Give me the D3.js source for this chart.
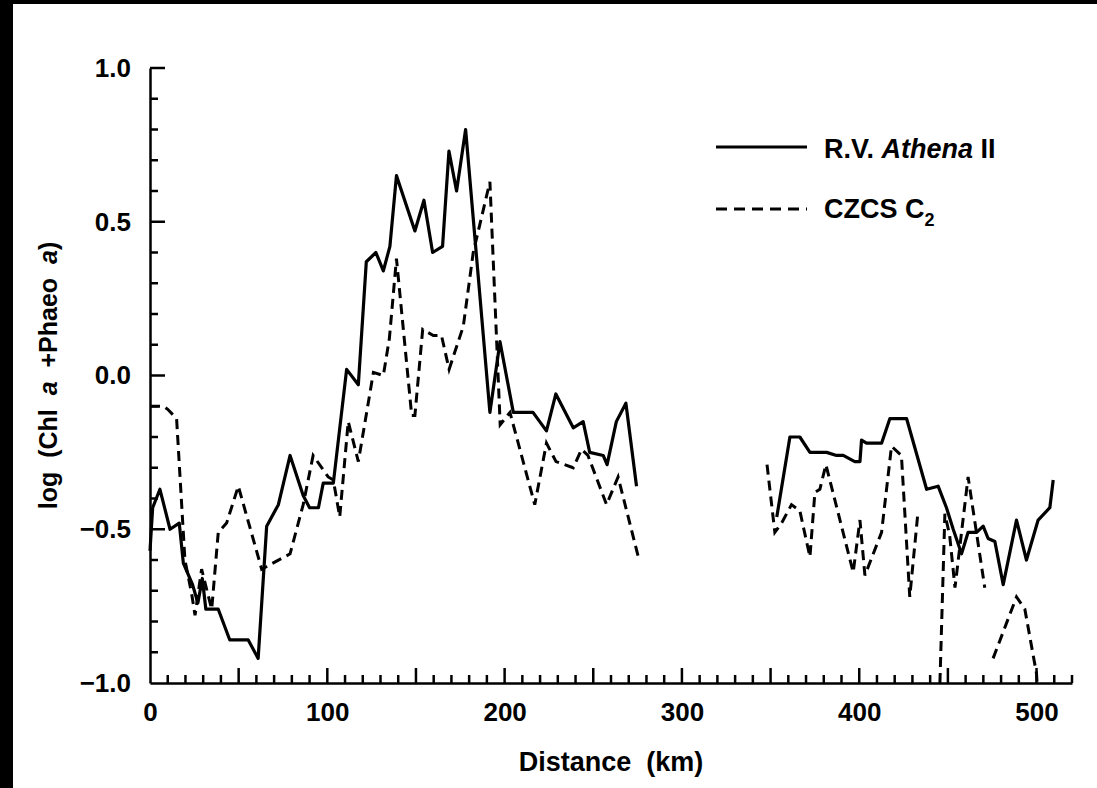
<!DOCTYPE html>
<html>
<head>
<meta charset="utf-8">
<script src="https://cdn.jsdelivr.net/npm/d3@7"></script>
<style>
	body { margin: 0; background: #fff; }
	text { font-family: "Liberation Sans", Arial, Helvetica, sans-serif; font-weight: bold; fill: #000; }
	.axis path { stroke: #000; stroke-width: 2.5px; }
	.axis text { font-size: 26px; }
	.tick-mark { stroke: #000; stroke-width: 2.5px; }
</style>
</head>
<body>
<script>
(function() {

	// R.V. Athena II profile (null = no data)
	var athenaKm = [0, 1.5, 5.6, 11.3, 16.5, 18.8, 24, 27, 29.5, 31.5, 38.5, 45, 55.4, 61, 65.8, 72.4, 79, 86.4, 90, 95, 97.7, 103.4,
		110.9, 117.5, 122, 127.4, 131.6, 135.3, 139, 149.4, 154.5, 159.4, 165, 168.6, 172.9, 178, 191.7, 197.4, 204.9, 216,
		223.6, 228.9, 238.7, 244.3, 248, 255.6, 257.8, 263, 268.4, 274.4,
		310,
		353.5, 360.9, 366.5, 372.2, 381.6, 387.2, 391, 397.5, 400.4, 401.3, 404.1, 412.6, 417.3, 426.7, 438, 444.5, 449.2,
		453, 457.7, 461.4, 466.2, 469.9, 472.7, 476.5, 481.2, 488.7, 494.3, 500.9, 507.5, 509.4];
	var athenaLog = [-0.57, -0.43, -0.37, -0.50, -0.48, -0.61, -0.68, -0.74, -0.66, -0.76, -0.76, -0.86, -0.86, -0.92, -0.49, -0.42, -0.26, -0.39, -0.43, -0.43, -0.35, -0.35,
		0.02, -0.03, 0.37, 0.40, 0.34, 0.42, 0.65, 0.47, 0.57, 0.40, 0.42, 0.73, 0.60, 0.80, -0.12, 0.11, -0.12, -0.12,
		-0.18, -0.06, -0.17, -0.15, -0.25, -0.26, -0.29, -0.15, -0.09, -0.36,
		null,
		-0.46, -0.20, -0.20, -0.25, -0.25, -0.26, -0.26, -0.28, -0.28, -0.21, -0.22, -0.22, -0.14, -0.14, -0.37, -0.36, -0.43,
		-0.50, -0.58, -0.51, -0.51, -0.49, -0.53, -0.54, -0.68, -0.47, -0.60, -0.47, -0.43, -0.34];

	// CZCS C2 satellite estimate (null = no data)
	var czcsKm = [0, 7.5, 10, 15, 19.7, 23.5, 25.4, 29.1, 34.8, 38.5, 43.2, 49.8, 63, 79, 86.4, 92, 100.5, 103.4, 107, 111.8,
		117.5, 126, 131.6, 135, 139, 147.6, 149.4, 153.8, 159.8, 164.4, 168.7, 176.7, 182.3, 191.7, 197.5, 203, 217, 223.6,
		229, 238.7, 243.4, 247, 257.5, 264, 275.4,
		310,
		348, 352.4, 356.2, 361.8, 366.5, 372.2, 375, 377.8, 381.2, 396.6, 400.4, 403.2, 412.6, 418.2, 423.8, 428.5, 433.2,
		440,
		445.5, 448.3, 451, 454, 461.4, 470.8,
		473,
		475.5, 488.7, 493.4, 500, 500.3];
	var czcsLog = [-0.10, -0.10, -0.11, -0.14, -0.60, -0.71, -0.78, -0.63, -0.76, -0.51, -0.48, -0.36, -0.63, -0.58, -0.42, -0.26, -0.33, -0.34, -0.46, -0.15,
		-0.28, 0.01, 0.00, 0.12, 0.38, -0.13, -0.13, 0.15, 0.13, 0.13, 0.02, 0.16, 0.40, 0.63, -0.16, -0.12, -0.42, -0.22,
		-0.28, -0.30, -0.24, -0.26, -0.42, -0.33, -0.59,
		null,
		-0.29, -0.51, -0.48, -0.42, -0.44, -0.59, -0.38, -0.37, -0.29, -0.64, -0.47, -0.65, -0.51, -0.23, -0.26, -0.72, -0.44,
		null,
		-1.0, -0.45, -0.52, -0.69, -0.33, -0.69,
		null,
		-0.92, -0.72, -0.76, -0.97, -1.0];

	var xMajorTicks = [0, 100, 200, 300, 400, 500];
	var yMajorTicks = [-1.0, -0.5, 0.0, 0.5, 1.0];


	var margin = { top: 68, right: 25, bottom: 105, left: 150 };
	var width = 1097 - margin.left - margin.right;
	var height = 788 - margin.top - margin.bottom;

	var root = d3.select("body")
		.append("svg")
		.attr("width", 1097)
		.attr("height", 788);

	// scanned page edge
	root.append("rect").attr("x", 0).attr("y", 0).attr("width", 1097).attr("height", 4).attr("fill", "#000");
	root.append("rect").attr("x", 0).attr("y", 0).attr("width", 13).attr("height", 788).attr("fill", "#000");

	var svg = root.append("g")
		.attr("transform", "translate(" + margin.left + "," + margin.top + ")");

	var x = d3.scaleLinear().domain([0, 520]).range([0, width]);
	var y = d3.scaleLinear().domain([-1, 1]).range([height, 0]);

	// axes: labels from d3 axis, tick marks drawn inward below
	svg.append("g")
		.attr("class", "axis")
		.attr("transform", "translate(0," + height + ")")
		.call(d3.axisBottom(x).tickValues(xMajorTicks).tickSize(0).tickPadding(20));

	svg.append("g")
		.attr("class", "axis")
		.call(d3.axisLeft(y).tickValues(yMajorTicks).tickSize(0).tickPadding(19)
			.tickFormat(function(d) { return d3.format(".1f")(d).replace("-", "\u2212"); }));

	// x ticks every 10 km, longer every 50 km
	svg.append("g").selectAll("line")
		.data(d3.range(10, 521, 10))
		.join("line")
		.attr("class", "tick-mark")
		.attr("x1", function(d) { return x(d); })
		.attr("x2", function(d) { return x(d); })
		.attr("y1", height)
		.attr("y2", function(d) { return height - (d % 50 === 0 ? 15 : 8); });

	// y ticks every 0.1, longer every 0.5
	svg.append("g").selectAll("line")
		.data(d3.range(-9, 11))
		.join("line")
		.attr("class", "tick-mark")
		.attr("x1", 0)
		.attr("x2", function(d) { return d % 5 === 0 ? 15 : 8; })
		.attr("y1", function(d) { return y(d / 10); })
		.attr("y2", function(d) { return y(d / 10); });

	// axis titles
	svg.append("text")
		.attr("x", x(260))
		.attr("y", height + 88)
		.attr("text-anchor", "middle")
		.style("font-size", "27px")
		.style("white-space", "pre")
		.text("Distance  (km)");

	var ylab = svg.append("text")
		.attr("transform", "translate(" + (48 - margin.left) + "," + y(0) + ") rotate(-90)")
		.attr("dy", "0.35em")
		.attr("text-anchor", "middle")
		.style("font-size", "25px")
		.style("white-space", "pre");
	ylab.append("tspan").text("log  (Chl  ");
	ylab.append("tspan").style("font-style", "italic").text("a");
	ylab.append("tspan").text("  +Phaeo  ");
	ylab.append("tspan").style("font-style", "italic").text("a");
	ylab.append("tspan").text(")");

	// lines
	var athena = athenaKm.map(function(d, i) { return { km: d, v: athenaLog[i] }; });
	var czcs = czcsKm.map(function(d, i) { return { km: d, v: czcsLog[i] }; });

	var line = d3.line()
		.defined(function(d) { return d.v !== null; })
		.x(function(d) { return x(d.km); })
		.y(function(d) { return y(d.v); });

	svg.append("path")
		.datum(athena)
		.attr("fill", "none")
		.attr("stroke", "#000")
		.attr("stroke-width", 3.2)
		.attr("stroke-linejoin", "round")
		.attr("d", line);

	svg.append("path")
		.datum(czcs)
		.attr("fill", "none")
		.attr("stroke", "#000")
		.attr("stroke-width", 3)
		.attr("stroke-dasharray", "10,6")
		.attr("d", line);

	// legend
	var legend = root.append("g").attr("transform", "translate(716,0)");

	legend.append("line")
		.attr("x1", 0).attr("x2", 91).attr("y1", 147).attr("y2", 147)
		.attr("stroke", "#000").attr("stroke-width", 3.2);

	legend.append("line")
		.attr("x1", 0).attr("x2", 91).attr("y1", 209).attr("y2", 209)
		.attr("stroke", "#000").attr("stroke-width", 3).attr("stroke-dasharray", "11,7");

	var t1 = legend.append("text").attr("x", 108).attr("y", 158).style("font-size", "27px").style("white-space", "pre");
	t1.append("tspan").text("R.V. ");
	t1.append("tspan").style("font-style", "italic").text("Athena");
	t1.append("tspan").text(" II");

	var t2 = legend.append("text").attr("x", 108).attr("y", 218).style("font-size", "27px");
	t2.append("tspan").text("CZCS C");
	t2.append("tspan").attr("dy", 8).style("font-size", "18px").text("2");

})();
</script>
</body>
</html>
